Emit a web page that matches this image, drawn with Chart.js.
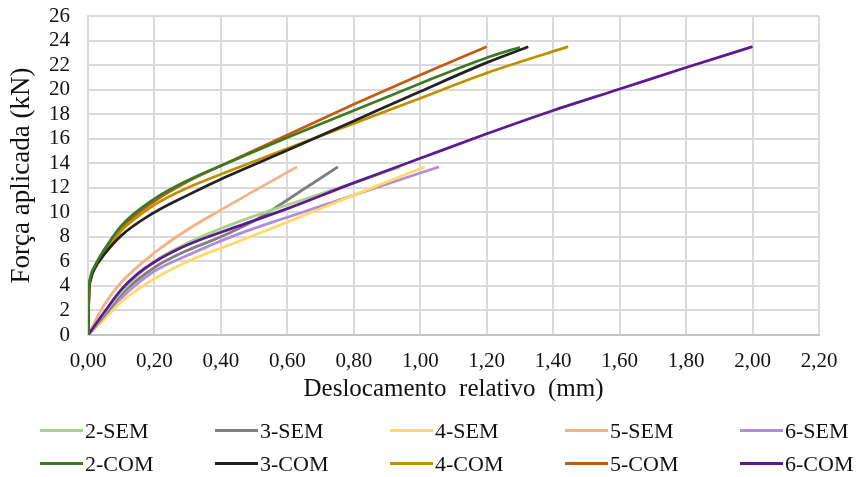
<!DOCTYPE html>
<html>
<head>
<meta charset="utf-8">
<script src="https://cdn.jsdelivr.net/npm/chart.js@4.4.0/dist/chart.umd.min.js"></script>
<style>
  html, body { margin: 0; padding: 0; background: #fff; }
  #wrap { position: relative; width: 861px; height: 477px; }
  #legend { position: absolute; left: 0; top: 0; width: 861px; height: 477px; pointer-events: none;
            font-family: 'Liberation Serif', 'Times New Roman', serif; font-size: 22px; color: #111; }
  .item { position: absolute; height: 24px; line-height: 24px; white-space: nowrap; }
  .item span.swatch { position: absolute; left: 0; top: 10px; width: 43px; height: 3px; }
  .item span.label { position: absolute; left: 45px; top: 0; }
</style>
</head>
<body>
<div id="wrap">
  <canvas id="chart" width="861" height="477"></canvas>
  <div id="legend"></div>
</div>
<script>
// curve points: [displacement mm, load kN]
const sem2 = [[0,0],[0.05,1.8],[0.1,3.5],[0.2,6.0],[0.3,7.5],[0.45,9.2],[0.6,10.6],[0.8,12.4],[0.94,13.7]];
const sem3 = [[0,0],[0.05,1.6],[0.1,3.3],[0.2,5.5],[0.3,6.9],[0.4,8.0],[0.5,9.3],[0.56,10.3],[0.65,11.9],[0.752,13.7]];
const sem4 = [[0,0],[0.05,1.3],[0.1,2.7],[0.2,4.6],[0.3,6.0],[0.45,7.6],[0.6,9.2],[0.8,11.4],[1.013,13.7]];
const sem5 = [[0,0],[0.05,2.5],[0.1,4.3],[0.2,6.7],[0.3,8.6],[0.4,10.2],[0.5,11.75],[0.629,13.7]];
const sem6 = [[0,0],[0.05,1.5],[0.1,3.0],[0.2,5.2],[0.3,6.5],[0.45,8.2],[0.6,9.6],[0.8,11.4],[1.0,13.2],[1.056,13.7]];

const com2 = [[0,0],[0.003,3.6],[0.008,4.8],[0.02,5.6],[0.05,7.0],[0.1,8.9],[0.2,11.1],[0.3,12.6],[0.4,13.8],[0.6,16.1],[0.8,18.3],[1.0,20.5],[1.2,22.6],[1.3,23.45]];
const com3 = [[0,0],[0.003,3.4],[0.008,4.5],[0.02,5.4],[0.05,6.6],[0.1,8.1],[0.2,10.0],[0.3,11.4],[0.4,12.7],[0.6,15.05],[0.8,17.45],[1.0,19.85],[1.2,22.2],[1.325,23.5]];
const com4 = [[0,0],[0.003,3.5],[0.008,4.6],[0.02,5.5],[0.05,6.8],[0.1,8.5],[0.2,10.6],[0.3,12.0],[0.4,13.1],[0.6,15.2],[0.8,17.25],[1.0,19.3],[1.2,21.35],[1.445,23.5]];
const com5 = [[0,0],[0.003,3.5],[0.008,4.6],[0.02,5.5],[0.05,6.9],[0.1,8.7],[0.2,10.9],[0.3,12.5],[0.4,13.8],[0.6,16.3],[0.8,18.8],[1.0,21.2],[1.2,23.5]];
const com6 = [[0,0],[0.05,1.9],[0.1,3.7],[0.15,5.0],[0.2,5.95],[0.3,7.35],[0.45,8.85],[0.6,10.3],[0.8,12.4],[1.0,14.4],[1.2,16.4],[1.4,18.3],[1.6,20.05],[1.8,21.8],[2.0,23.5]];

const seriesNames = ['2-SEM','3-SEM','4-SEM','5-SEM','6-SEM','2-COM','3-COM','4-COM','5-COM','6-COM'];
const seriesData  = [sem2, sem3, sem4, sem5, sem6, com2, com3, com4, com5, com6];
const seriesColors = ['#A9D18E','#7F7F7F','#FFD966','#F4B183','#B38BDB','#3F7A22','#222222','#BF9000','#C55A11','#5B1A94'];

const xTicks = [0,0.2,0.4,0.6,0.8,1.0,1.2,1.4,1.6,1.8,2.0,2.2];
const yTicks = [0,2,4,6,8,10,12,14,16,18,20,22,24,26];

const FONT = "'Liberation Serif', 'Times New Roman', serif";
const GRID = '#DADADA';

const datasets = seriesNames.map((name, i) => ({
  label: name,
  data: seriesData[i].map(p => ({ x: p[0], y: p[1] })),
  borderColor: seriesColors[i],
  backgroundColor: seriesColors[i],
  borderWidth: 2.75,
  pointRadius: 0,
  fill: false,
  cubicInterpolationMode: 'monotone',
  order: i < 5 ? 2 : 1
}));

const chart = new Chart(document.getElementById('chart'), {
  type: 'line',
  data: { datasets },
  options: {
    responsive: false,
    animation: false,
    layout: { padding: { left: 0, top: 16, right: 42, bottom: 72 } },
    plugins: { legend: { display: false }, tooltip: { enabled: false } },
    scales: {
      x: {
        type: 'linear', min: 0, max: 2.2,
        afterBuildTicks: s => { s.ticks = xTicks.map(v => ({ value: v })); },
        afterFit: s => { s.height = 70; s.paddingLeft = 0; s.paddingRight = 0; },
        ticks: {
          autoSkip: false, maxRotation: 0,
          color: '#111', padding: 14, font: { family: FONT, size: 21 },
          callback: v => v.toFixed(2).replace('.', ',')
        },
        grid: { color: GRID, lineWidth: 2, drawTicks: false },
        border: { color: '#C4C4C4', width: 2 },
        title: { display: true, text: 'Deslocamento  relativo  (mm)', color: '#111',
                 font: { family: FONT, size: 25 }, padding: { top: 0, bottom: 1 } }
      },
      y: {
        min: 0, max: 26,
        afterBuildTicks: s => { s.ticks = yTicks.map(v => ({ value: v })); },
        // tick padding would otherwise be added above the top label
        afterFit: s => { s.width = 88; s.paddingTop = 0; s.paddingBottom = 0; },
        ticks: { autoSkip: false, color: '#111', padding: 18, font: { family: FONT, size: 21 } },
        grid: { color: GRID, lineWidth: 2, drawTicks: false },
        border: { color: GRID, width: 2 },
        title: { display: true, text: 'Força aplicada (kN)', color: '#111',
                 font: { family: FONT, size: 27 }, padding: { top: 6, bottom: 0 } }
      }
    }
  }
});

// legend laid out as in the picture: five columns, SEM row above COM row
const legend = document.getElementById('legend');
chart.data.datasets.forEach((ds, i) => {
  const col = i % 5, row = Math.floor(i / 5);
  const el = document.createElement('div');
  el.className = 'item';
  el.style.left = (40 + col * 175) + 'px';
  el.style.top = (419 + row * 33) + 'px';
  el.innerHTML = '<span class="swatch" style="background:' + ds.borderColor + '"></span><span class="label">' + ds.label + '</span>';
  legend.appendChild(el);
});
</script>
</body>
</html>
